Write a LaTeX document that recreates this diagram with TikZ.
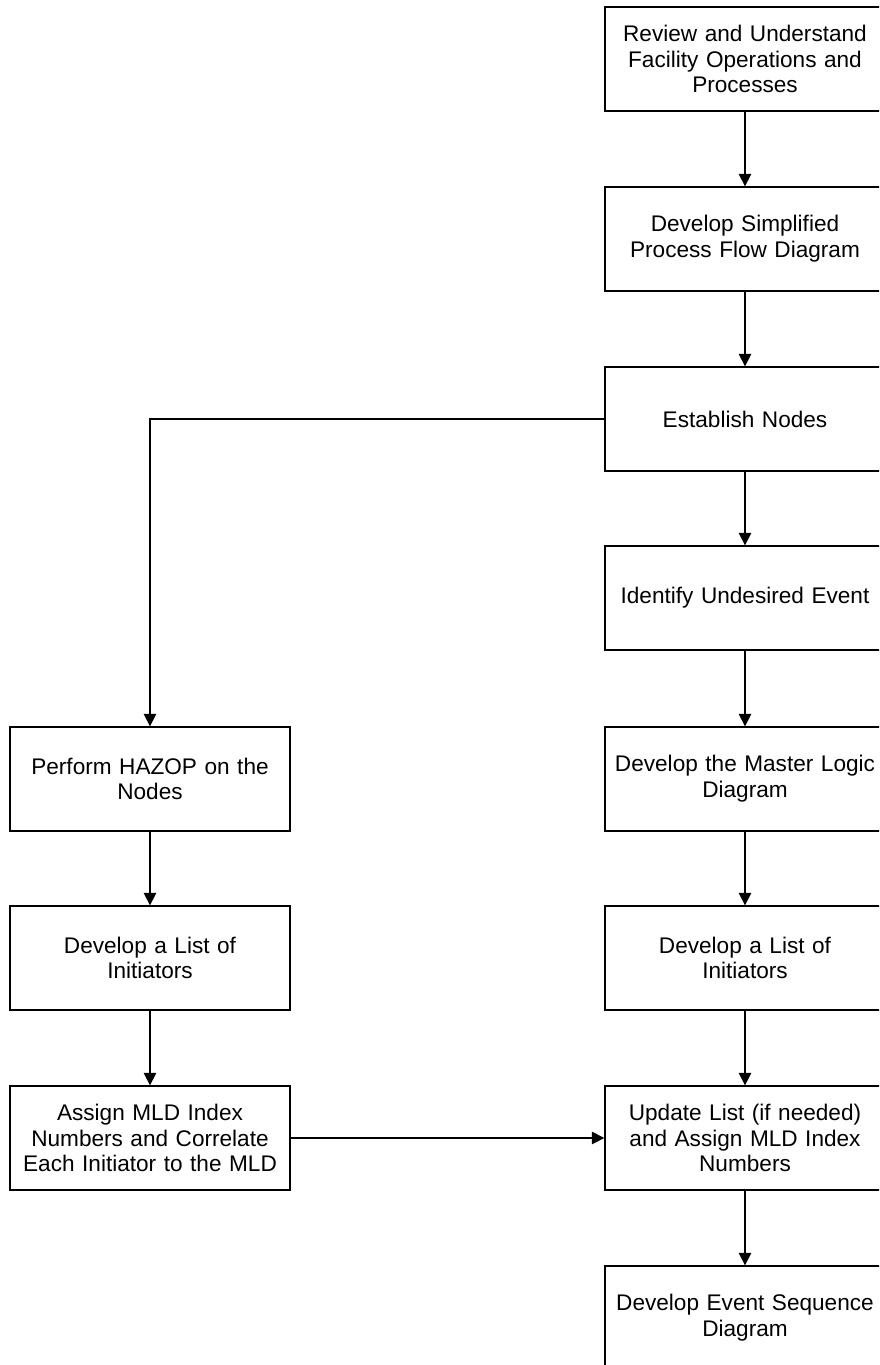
\documentclass[tikz,border=0pt]{standalone}
\usepackage{fontspec}
\setmainfont{Liberation Sans}
\usetikzlibrary{arrows.meta}
\begin{document}
\begin{tikzpicture}[x=1pt,y=-1pt,
  stepbox/.style={draw=black,line width=1.3pt,minimum width=280pt,minimum height=104pt,
    text width=278pt,align=center,inner sep=0pt,font=\fontsize{22.6}{25.8}\selectfont},
  flow/.style={draw=black,line width=1.3pt,-{Triangle[width=12.5pt,length=12.5pt]}}]
\useasboundingbox (0,0) rectangle (879,1365);
\clip (0,0) rectangle (879,1365);
% right column
\node[stepbox] (review) at (745,59) {Review and Understand\\Facility Operations and\\Processes};
\node[stepbox] (pfd) at (745,239) {Develop Simplified\\Process Flow Diagram};
\node[stepbox] (nodes) at (745,419) {Establish Nodes};
\node[stepbox] (undes) at (745,598) {Identify Undesired Event};
\node[stepbox] (mld) at (745,779) {Develop the Master Logic\\Diagram};
\node[stepbox] (listR) at (745,958) {Develop a List of\\Initiators};
\node[stepbox] (update) at (745,1138) {Update List (if needed)\\and Assign MLD Index\\Numbers};
\node[stepbox] (esd) at (745,1318) {Develop Event Sequence\\Diagram};
% left column
\node[stepbox] (hazop) at (150,779) {Perform HAZOP on the\\Nodes};
\node[stepbox] (listL) at (150,958) {Develop a List of\\Initiators};
\node[stepbox] (assign) at (150,1138) {Assign MLD Index\\Numbers and Correlate\\Each Initiator to the MLD};
% connectors
\draw[flow] (review) -- (pfd);
\draw[flow] (pfd) -- (nodes);
\draw[flow] (nodes) -- (undes);
\draw[flow] (undes) -- (mld);
\draw[flow] (mld) -- (listR);
\draw[flow] (listR) -- (update);
\draw[flow] (update) -- (esd);
\draw[flow] (nodes.west) -| (hazop.north);
\draw[flow] (hazop) -- (listL);
\draw[flow] (listL) -- (assign);
\draw[flow] (assign) -- (update);
\end{tikzpicture}
\end{document}
